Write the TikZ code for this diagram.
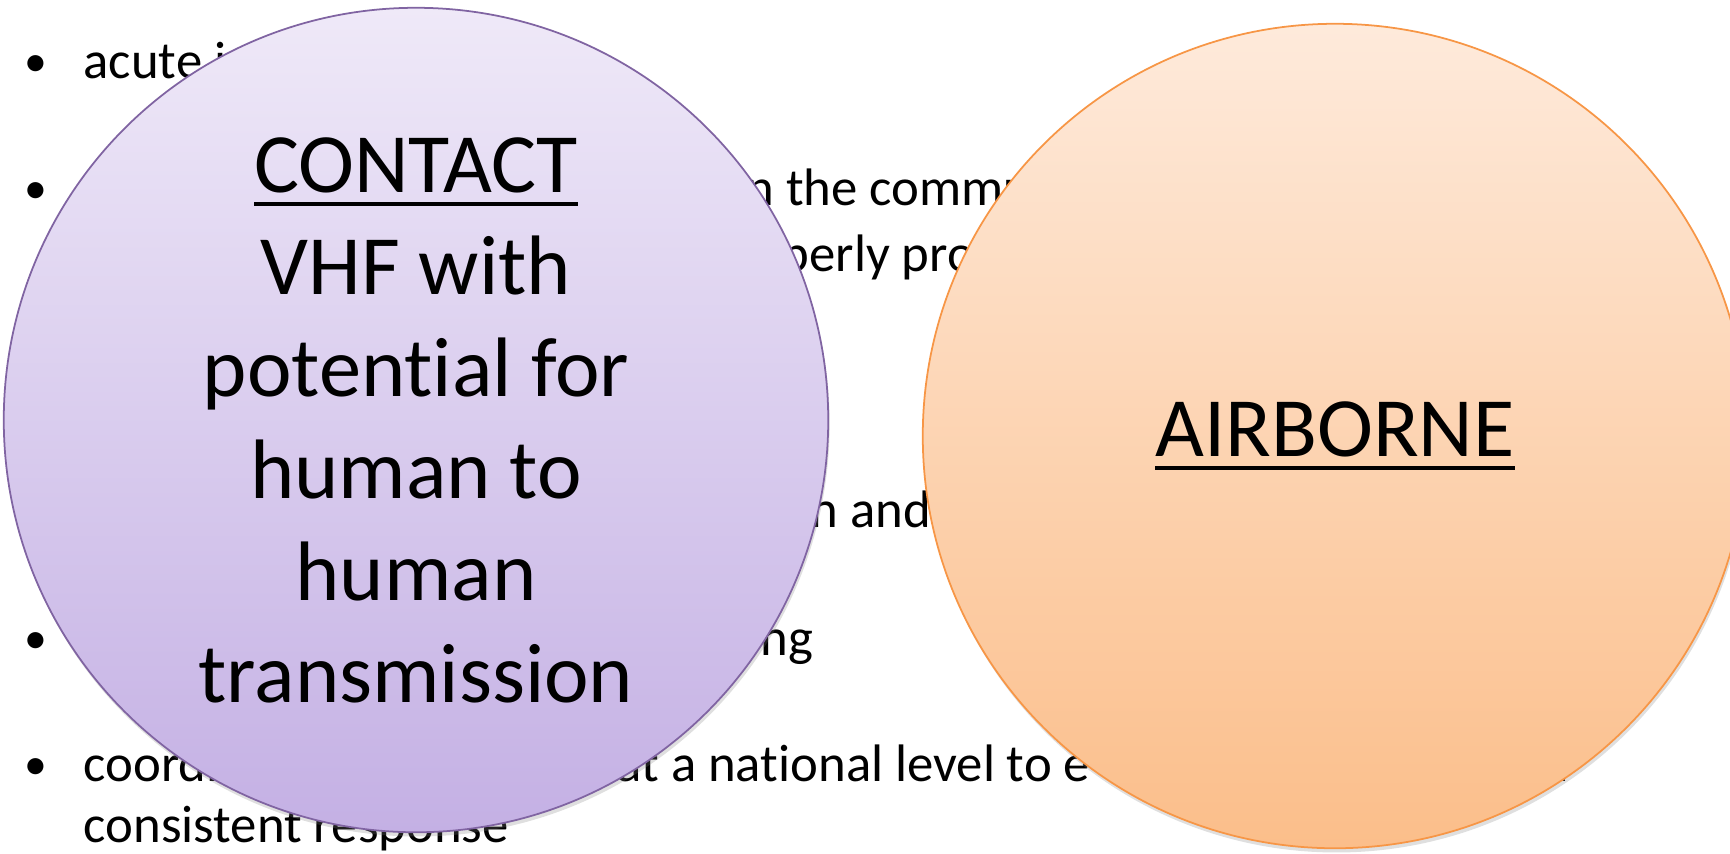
\documentclass[tikz,border=0pt]{standalone}
\usepackage{fontspec}
\setmainfont{Carlito}[Ligatures=NoCommon]
\usetikzlibrary{shadows}
\definecolor{contactline}{RGB}{128,100,162}
\definecolor{contacttop}{RGB}{239,233,248}
\definecolor{contactbottom}{RGB}{196,176,228}
\definecolor{airline}{RGB}{247,150,70}
\definecolor{airtop}{RGB}{254,234,219}
\definecolor{airbottom}{RGB}{251,190,138}

% thick underline for the circle titles
\newcommand{\titleline}[1]{\leavevmode\vtop{\hbox{#1}\kern2.6pt\hrule height 1.1pt}}

\tikzset{
  bodytext/.style={anchor=base west, inner sep=0pt, font=\fontsize{15}{18}\selectfont},
  bigcircle/.style={draw, circle, minimum size=8.24cm, inner sep=0pt, line width=0.5pt,
    align=center, font=\fontsize{24}{29}\selectfont,
    drop shadow={opacity=0.25, shadow xshift=0.4pt, shadow yshift=-1.2pt}},
}

\begin{document}
\begin{tikzpicture}[x=0.01cm, y=-0.01cm]
    \useasboundingbox (0,0) rectangle (1730,853);
    \clip (0,0) rectangle (1730,853);

    % Bullet list behind the circles
    \node[bodytext, font=\fontsize{13}{16}\selectfont] (b1) at (24,76) {•};
    \node[bodytext, font=\fontsize{13}{16}\selectfont] (b2) at (24,203) {•};
    \node[bodytext, font=\fontsize{13}{16}\selectfont] (b3) at (24,653) {•};
    \node[bodytext, font=\fontsize{13}{16}\selectfont] (b4) at (24,779) {•};

    \node[bodytext] (t1) at (83,78) {acute i};
    \node[bodytext] (t2) at (746,205) {n the commu};
    \node[bodytext] (t3) at (781,271) {perly pro};
    \node[bodytext] (t4) at (810,527) {n and};
    \node[bodytext] (t5) at (760,655) {ng};
    \node[bodytext] (t6) at (83,781) {coordi};
    \node[bodytext] (t7) at (616,781) {at a national level to e};
    \node[bodytext, anchor=base east] (t8) at (1569,781) {a};
    \node[bodytext] (t9) at (83,842) {consistent response};

    % Left circle
    \node[bigcircle, draw=contactline, top color=contacttop, bottom color=contactbottom]
        (contact) at (416,420)
        {\titleline{CONTACT}\\VHF with\\potential for\\human to\\human\\transmission};

    % Right circle
    \node[bigcircle, draw=airline, top color=airtop, bottom color=airbottom]
        (airborne) at (1335,436) {\titleline{AIRBORNE}};
\end{tikzpicture}
\end{document}
